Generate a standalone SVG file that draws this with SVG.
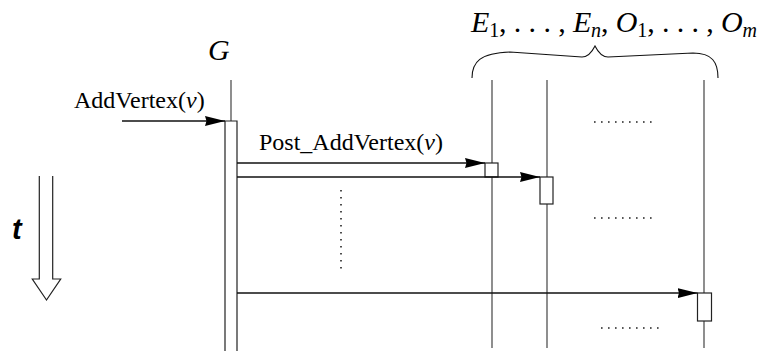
<svg xmlns="http://www.w3.org/2000/svg" width="762" height="351" viewBox="0 0 762 351">
<defs>
<marker id="ah" markerWidth="20" markerHeight="10" refX="20" refY="5" orient="auto" markerUnits="userSpaceOnUse">
<path d="M0,0 L20,5 L0,10 L1.5,5 Z" fill="#000"/>
</marker>
</defs>
<style>
.ser{font-family:"Liberation Serif","Times New Roman",serif;fill:#000}
.life{stroke:#444;stroke-width:1.2;fill:none}
.box{stroke:#222;stroke-width:1.2;fill:#fff}
.msg{stroke:#111;stroke-width:1.3;fill:none}
.dot{stroke:#222;stroke-width:1.6;fill:none;stroke-dasharray:1.6 5.4}
.it{font-style:italic}
</style>
<rect width="762" height="351" fill="#fff"/>

<g id="label-group">
<text class="ser" x="471" y="32" font-size="30" textLength="286" lengthAdjust="spacing"><tspan class="it">E</tspan><tspan font-size="20" dy="5">1</tspan><tspan dy="-5">, . . . , </tspan><tspan class="it">E</tspan><tspan class="it" font-size="20" dy="5">n</tspan><tspan dy="-5">, </tspan><tspan class="it">O</tspan><tspan font-size="20" dy="5">1</tspan><tspan dy="-5">, . . . , </tspan><tspan class="it">O</tspan><tspan class="it" font-size="20" dy="5">m</tspan></text>
<path d="M472,78 C472,62 480,53 510,52 L582,57 C588,57 592,52 595,46 C598,52 602,57 608,57 L693,53 C712,53 718,62 718,78" fill="none" stroke="#111" stroke-width="1.1"/>
</g>

<g id="node-G">
<text class="ser it" x="208" y="60" font-size="30">G</text>
<line class="life" x1="231" y1="80" x2="231" y2="121"/>
<path class="box" d="M225,351 V121 H237 V351"/>
</g>

<g id="node-E1">
<line class="life" x1="492" y1="80" x2="492" y2="348"/>
<rect class="box" x="485" y="163" width="13" height="14"/>
</g>

<g id="node-E2">
<line class="life" x1="547" y1="80" x2="547" y2="348"/>
<rect class="box" x="540" y="177" width="13" height="27"/>
</g>

<g id="node-Om">
<line class="life" x1="704" y1="80" x2="704" y2="348"/>
<rect class="box" x="697.5" y="293" width="14" height="28"/>
</g>

<g id="time-axis">
<path d="M39.3,176 V279 H32.3 L46.5,300 L60.7,279 H52.7 V176" fill="none" stroke="#222" stroke-width="1.2"/>
<text x="12" y="239" font-size="29" font-style="italic" font-weight="bold" font-family="Liberation Sans,Arial,sans-serif">t</text>
</g>

<g id="connectors">
<line class="msg" x1="122" y1="121" x2="225" y2="121" marker-end="url(#ah)"/>
<text class="ser" x="74" y="108" font-size="24">AddVertex(<tspan class="it">v</tspan>)</text>
<line class="msg" x1="237" y1="163" x2="485" y2="163" marker-end="url(#ah)"/>
<text class="ser" x="259" y="150" font-size="24">Post_AddVertex(<tspan class="it">v</tspan>)</text>
<line class="msg" x1="237" y1="177" x2="540" y2="177" marker-end="url(#ah)"/>
<line class="msg" x1="237" y1="293" x2="697.5" y2="293" marker-end="url(#ah)"/>
<line class="dot" x1="341" y1="190" x2="341" y2="274"/>
<line class="dot" x1="594" y1="122" x2="652" y2="122"/>
<line class="dot" x1="594" y1="218" x2="652" y2="218"/>
<line class="dot" x1="601" y1="328" x2="659" y2="328"/>
</g>
</svg>
